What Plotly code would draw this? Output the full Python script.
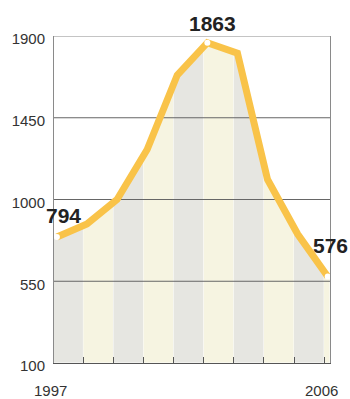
import numpy as np
import plotly.graph_objects as go

years = [1997, 1998, 1999, 2000, 2001, 2002, 2003, 2004, 2005, 2006]
values = [794, 865, 1000, 1275, 1685, 1863, 1806, 1110, 810, 576]
y_ticks = [100, 550, 1000, 1450, 1900]
labelled_years = [1997, 2002, 2006]
x_labels = [1997, 2006]

X_MIN, X_MAX = 1996.904, 2006.076
Y_MIN, Y_MAX = 100, 1900
GREY = "#e6e6e1"
YELLOW = "#f6f4e1"
ORANGE = "#f9c349"

yrs = np.array(years, dtype=float)
vals = np.array(values, dtype=float)
edges = [X_MIN] + list(yrs[1:] - 0.12) + [X_MAX]

fig = go.Figure()

# banded area under the curve
for i in range(len(edges) - 1):
    a, b = edges[i], edges[i + 1]
    inner = [x for x in yrs if a < x < b]
    xs = [a] + inner + [b]
    ys = list(np.interp(xs, yrs, vals))
    fig.add_trace(go.Scatter(
        x=xs + [b, a], y=ys + [Y_MIN, Y_MIN],
        fill="toself", fillcolor=GREY if i % 2 == 0 else YELLOW,
        mode="lines", line=dict(color="rgba(255,255,255,0.8)", width=1),
        hoverinfo="skip", showlegend=False))

# grid lines above fills
for v in y_ticks[1:]:
    fig.add_trace(go.Scatter(
        x=[X_MIN, X_MAX], y=[v, v], mode="lines",
        line=dict(color="#666666" if v != Y_MAX else "#8a8a8a", width=1),
        hoverinfo="skip", showlegend=False))

# main line
fig.add_trace(go.Scatter(
    x=years, y=values, mode="lines",
    line=dict(color=ORANGE, width=7, shape="linear"),
    cliponaxis=False, hoverinfo="skip", showlegend=False))

# markers
mx = [y for y in labelled_years]
my = [values[years.index(y)] for y in labelled_years]
fig.add_trace(go.Scatter(
    x=mx, y=my, mode="markers",
    marker=dict(color="white", size=6, line=dict(width=0)),
    cliponaxis=False, hoverinfo="skip", showlegend=False))

# value labels
label_pos = {1997: (7, 21), 2002: (5, 19), 2006: (3, 31)}
for yr, v in zip(mx, my):
    dx, dy = label_pos[yr]
    fig.add_annotation(
        x=yr, y=v, text=f"<b>{v}</b>", showarrow=False,
        xshift=dx, yshift=dy,
        font=dict(family="Liberation Sans", size=21, color="#222222"))

# year labels
for yr in x_labels:
    fig.add_annotation(
        x=yr, y=0, yref="paper", text=str(yr), showarrow=False,
        xshift=-6, yshift=-27, yanchor="middle",
        font=dict(family="Liberation Sans", size=15, color="#333333"))

fig.update_layout(
    width=350, height=399,
    margin=dict(l=42, r=20, t=36, b=36),
    paper_bgcolor="white", plot_bgcolor="white",
    xaxis=dict(range=[X_MIN, X_MAX], showgrid=False, zeroline=False,
               showline=True, linecolor="#555555", linewidth=1,
               tickmode="array", tickvals=edges[1:-1], ticktext=[""] * (len(edges) - 2),
               ticks="inside", ticklen=6, tickcolor="#555555", tickwidth=1,
               fixedrange=True),
    yaxis=dict(range=[Y_MIN, Y_MAX], showgrid=False, zeroline=False,
               showline=True, linecolor="#8a8a8a", linewidth=1, mirror=True,
               tickmode="array", tickvals=y_ticks, ticks="",
               ticklabelstandoff=5, ticklabelshift=3,
               tickfont=dict(family="Liberation Sans", size=15, color="#333333"),
               fixedrange=True),
    font=dict(family="Liberation Sans"),
)

fig.write_html("out.html")
